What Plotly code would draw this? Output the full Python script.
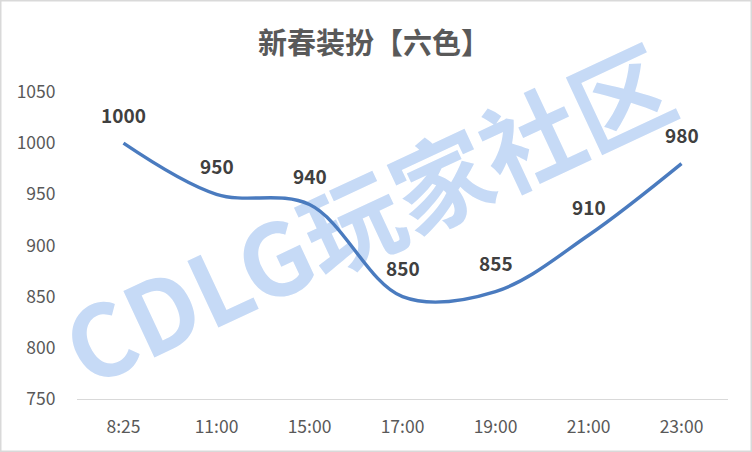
import plotly.graph_objects as go

categories = ["8:25", "11:00", "15:00", "17:00", "19:00", "21:00", "23:00"]
values = [1000, 950, 940, 850, 855, 910, 980]
y_ticks = [750, 800, 850, 900, 950, 1000, 1050]
title_text = "新春装扮【六色】"
watermark_text = "CDLG玩家社区"

FONT = "Noto Sans CJK SC, Microsoft YaHei, sans-serif"

fig = go.Figure()
fig.add_trace(go.Scatter(
    x=categories, y=values, mode="lines",
    line=dict(color="#4a7bbf", width=3.4, shape="spline", smoothing=1.0),
    hoverinfo="skip", showlegend=False,
))

annotations = []
for c, v in zip(categories, values):
    annotations.append(dict(
        x=c, y=v, xref="x", yref="y", text=f"<b>{v}</b>", showarrow=False,
        yshift=29, font=dict(family=FONT, size=19, color="#404040"),
    ))

cx, cy = 0.455, 0.565
shapes = [
    dict(type="rect", xref="paper", yref="paper", x0=cx - 0.5, x1=cx + 0.5,
         y0=cy - 0.5, y1=cy + 0.5,
         line=dict(width=0), fillcolor="rgba(0,0,0,0)", layer="below",
         label=dict(text="<b>" + watermark_text + "</b>", textangle=-25,
                    textposition="middle center",
                    font=dict(family=FONT, size=99, color="#c6daf6"))),
]

fig.update_layout(
    width=752, height=452,
    margin=dict(l=77, r=24, t=92, b=53),
    paper_bgcolor="white", plot_bgcolor="rgba(0,0,0,0)",
    title=dict(text="<b>" + title_text + "</b>", x=374 / 752, xanchor="center",
               y=1 - 44 / 452, yanchor="middle",
               font=dict(family=FONT, size=29, color="#595959")),
    xaxis=dict(type="category", range=[-0.5, 6.5], showline=True, linecolor="#d9d9d9",
               linewidth=1, showgrid=False, zeroline=False, ticks="outside", ticklen=12,
               tickcolor="rgba(0,0,0,0)",
               tickfont=dict(family=FONT, size=17.5, color="#595959")),
    yaxis=dict(range=[750, 1050], tickvals=y_ticks, showgrid=False, zeroline=False,
               showline=False, ticks="outside", ticklen=17, tickcolor="rgba(0,0,0,0)",
               tickfont=dict(family=FONT, size=17.5, color="#595959")),
    annotations=annotations,
    shapes=shapes,
)

# outer chart border
fig.add_shape(type="rect", xref="paper", yref="paper",
              x0=-77 / 651 + 0.75 / 651, x1=1 + 24 / 651 - 0.75 / 651,
              y0=-53 / 307 + 0.75 / 307, y1=1 + 92 / 307 - 0.75 / 307,
              line=dict(color="#d9d9d9", width=1.5), layer="above")

fig.write_html("out.html", config={"displayModeBar": False},
               post_script="document.body.style.margin='0px';")
